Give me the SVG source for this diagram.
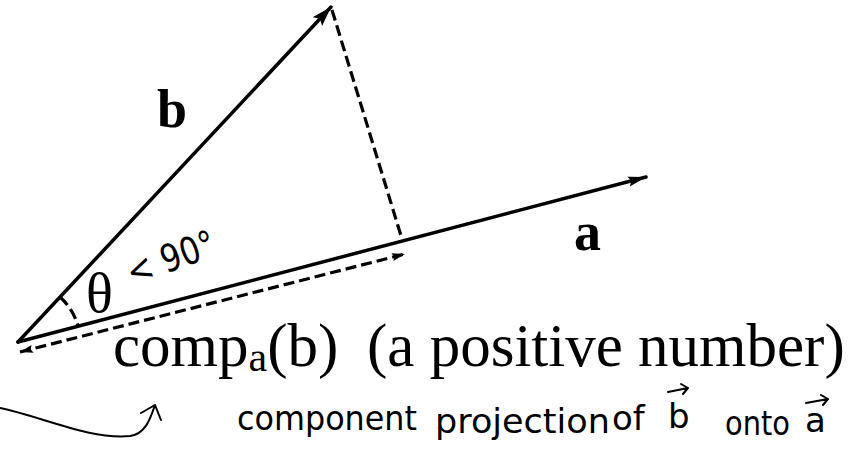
<svg xmlns="http://www.w3.org/2000/svg" width="863" height="466" viewBox="0 0 863 466">
<style>
.vec{stroke:#000;stroke-width:3.5;fill:none;stroke-linecap:round}
.dash{stroke:#000;stroke-width:3.2;fill:none;stroke-dasharray:11 5}
.thin{stroke:#000;stroke-width:2;fill:none;stroke-linecap:round;stroke-linejoin:round}
.serif{font-family:"Liberation Serif","Times New Roman",serif;fill:#000}
.hand{font-family:"DejaVu Sans","Liberation Sans",sans-serif;fill:#000}
</style>
<defs>
<marker id="headB" markerUnits="userSpaceOnUse" markerWidth="22" markerHeight="14" refX="20" refY="7" orient="auto">
<path d="M0,0.5 L20,7 L0,13.5 L4,7 Z" fill="#000"/>
</marker>
<marker id="headA" markerUnits="userSpaceOnUse" markerWidth="20" markerHeight="12" refX="18" refY="6" orient="auto">
<path d="M0,1 L18,6 L0,11 L3,6 Z" fill="#000"/>
</marker>
<marker id="headS" markerUnits="userSpaceOnUse" markerWidth="14" markerHeight="10" refX="13" refY="5" orient="auto-start-reverse">
<path d="M0,1 L13,5 L0,9 L2,5 Z" fill="#000"/>
</marker>
</defs>
<g id="connectors">
<line id="vec-b" class="vec" x1="18" y1="342" x2="331" y2="7" marker-end="url(#headB)"/>
<line id="vec-a" class="vec" x1="18" y1="342" x2="646" y2="177" marker-end="url(#headA)"/>
<line id="perp" class="dash" x1="332" y1="10" x2="402" y2="239"/>
<line id="proj" class="dash" stroke-width="2.6" stroke-dasharray="8 4" x1="20" y1="352" x2="405" y2="254" marker-start="url(#headS)" marker-end="url(#headS)"/>
<path id="angle-arc" class="dash" stroke-width="2.5" stroke-dasharray="6 4" d="M60,297 A62,62 0 0 1 78,326"/>
<path id="note-arrow" class="thin" d="M0,408 C40,416 90,440 130,436 C145,434 150,420 155,405 M141,413 L155,405 L161,420"/>
</g>
<g id="label-b"><text class="serif" x="157" y="127" font-size="54" font-weight="bold">b</text></g>
<g id="label-a"><text class="serif" x="574" y="250" font-size="54" font-weight="bold">a</text></g>
<g id="label-theta"><text class="serif" x="86" y="312" font-size="56">θ</text></g>
<g id="label-angle"><text class="hand" x="132" y="286" font-size="38" transform="rotate(-20 132 286)" textLength="92" lengthAdjust="spacingAndGlyphs">&lt; 90°</text></g>
<g id="label-comp">
<text class="serif" x="113" y="366" font-size="61">comp<tspan font-size="42" dy="5">a</tspan><tspan dy="-5">(b)</tspan><tspan x="367">(a positive number)</tspan></text>
</g>
<g id="label-note">
<text class="hand" y="430" font-size="34"><tspan x="237" textLength="180" lengthAdjust="spacingAndGlyphs">component</tspan><tspan x="435" y="433" textLength="175" lengthAdjust="spacingAndGlyphs">projection</tspan><tspan x="612" y="430">of</tspan><tspan x="668" y="428">b</tspan><tspan x="725" y="435" textLength="65" lengthAdjust="spacingAndGlyphs">onto</tspan><tspan x="805" y="432">a</tspan></text>
<path class="thin" d="M668,392 L688,388 M681,384 L688,388 L683,394 M806,403 L828,399 M821,395 L828,399 L823,405"/>
</g>
</svg>
